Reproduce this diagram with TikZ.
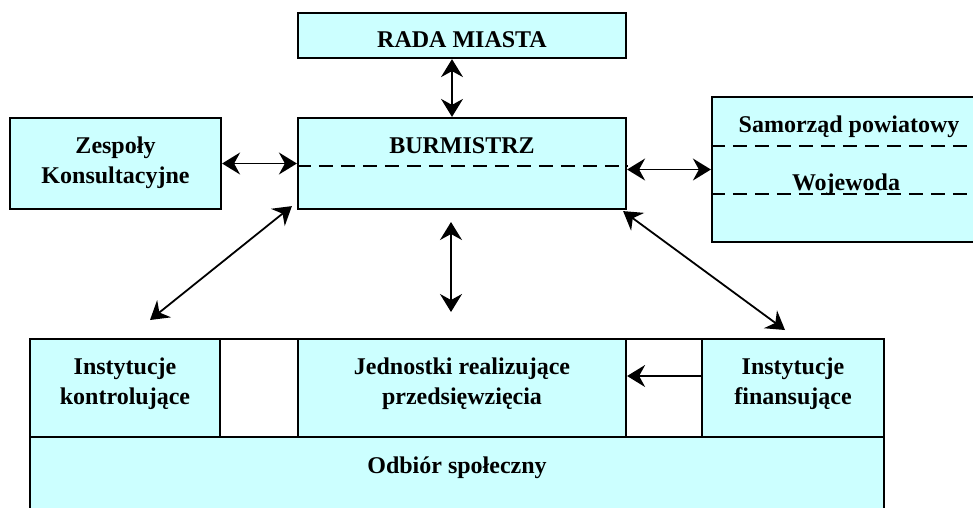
\documentclass[tikz,border=0pt]{standalone}
\usepackage{fontspec}
\setmainfont{Liberation Serif}
\usetikzlibrary{arrows.meta}
\definecolor{boxcyan}{HTML}{CCFFFF}

\begin{document}
\begin{tikzpicture}[x=1pt, y=-1pt, >={Stealth[length=18pt, width=22pt, inset=6pt]},
    font=\fontsize{24}{30}\selectfont\bfseries,
    box/.style={rectangle, draw, line width=2.2pt, fill=boxcyan, inner sep=0pt},
    gap/.style={box, fill=white},
    txt/.style={align=center, inner sep=0pt, anchor=base},
    link/.style={<->, line width=1.8pt},
    split/.style={dash pattern=on 14pt off 8pt, line width=1.8pt}]
    \useasboundingbox (0,0) rectangle (973,507);
    \clip (0,0) rectangle (973,507);

    % Top nodes
    \node[box, minimum width=328pt, minimum height=45pt](rada) at (462,35.5) {};
    \node[box, minimum width=328pt, minimum height=91pt](burmistrz) at (462,163.5) {};
    \node[box, minimum width=211pt, minimum height=91pt](zespoly) at (115.5,163.5) {};
    \node[box, minimum width=274pt, minimum height=145pt](prawy) at (849,169.5) {};

    \node[txt](radatxt) at (462,47) {RADA MIASTA};
    \node[txt](burmistrztxt) at (462,153) {BURMISTRZ};
    \node[txt](zespolytxt) at (115.5,183) {Zespoły\\ Konsultacyjne};
    \node[txt](samorzad) at (849,132) {Samorząd powiatowy};
    \node[txt](wojewoda) at (846,190) {Wojewoda};

    \draw[split] ([yshift=-2.5pt]burmistrz.west) -- ([yshift=-2.5pt]burmistrz.east);
    \draw[split] ([yshift=23.5pt]prawy.west) -- ([yshift=23.5pt]prawy.east);
    \draw[split] ([yshift=-24.5pt]prawy.west) -- ([yshift=-24.5pt]prawy.east);

    % Bottom block
    \node[box, minimum width=854pt, minimum height=103pt](odbior) at (457,488.5) {};
    \node[box, minimum width=190pt, minimum height=98pt](kontrol) at (125,388) {};
    \node[gap, minimum width=78pt, minimum height=98pt](luka1) at (259,388) {};
    \node[box, minimum width=328pt, minimum height=98pt](jednostki) at (462,388) {};
    \node[gap, minimum width=76pt, minimum height=98pt](luka2) at (664,388) {};
    \node[box, minimum width=182pt, minimum height=98pt](finans) at (793,388) {};

    \node[txt](kontroltxt) at (125,404) {Instytucje\\ kontrolujące};
    \node[txt](jednostkitxt) at (462,404) {Jednostki realizujące\\ przedsięwzięcia};
    \node[txt](finanstxt) at (793,404) {Instytucje\\ finansujące};
    \node[txt](odbiortxt) at (457,473) {Odbiór społeczny};

    % Free ends of arrows
    \coordinate (kontrolgora) at (150,320);
    \coordinate (finansgora) at (785,330);
    \coordinate (piongora) at (451,222);
    \coordinate (piondol) at (451,312);

    % Arrows
    \draw[link] ([xshift=-10pt]rada.south) -- ([xshift=-10pt]burmistrz.north);
    \draw[link] (zespoly.east) -- (burmistrz.west);
    \draw[link] (burmistrz.east |- prawy.west) -- (prawy.west);
    \draw[link] ([shift={(-5,-4)}]burmistrz.south west) -- (kontrolgora);
    \draw[link] ([shift={(-4,1)}]burmistrz.south east) -- (finansgora);
    \draw[link] (piongora) -- (piondol);
    \draw[->, line width=1.8pt] ([yshift=12pt]finans.west) -- ([yshift=12pt]jednostki.east);

\end{tikzpicture}
\end{document}
